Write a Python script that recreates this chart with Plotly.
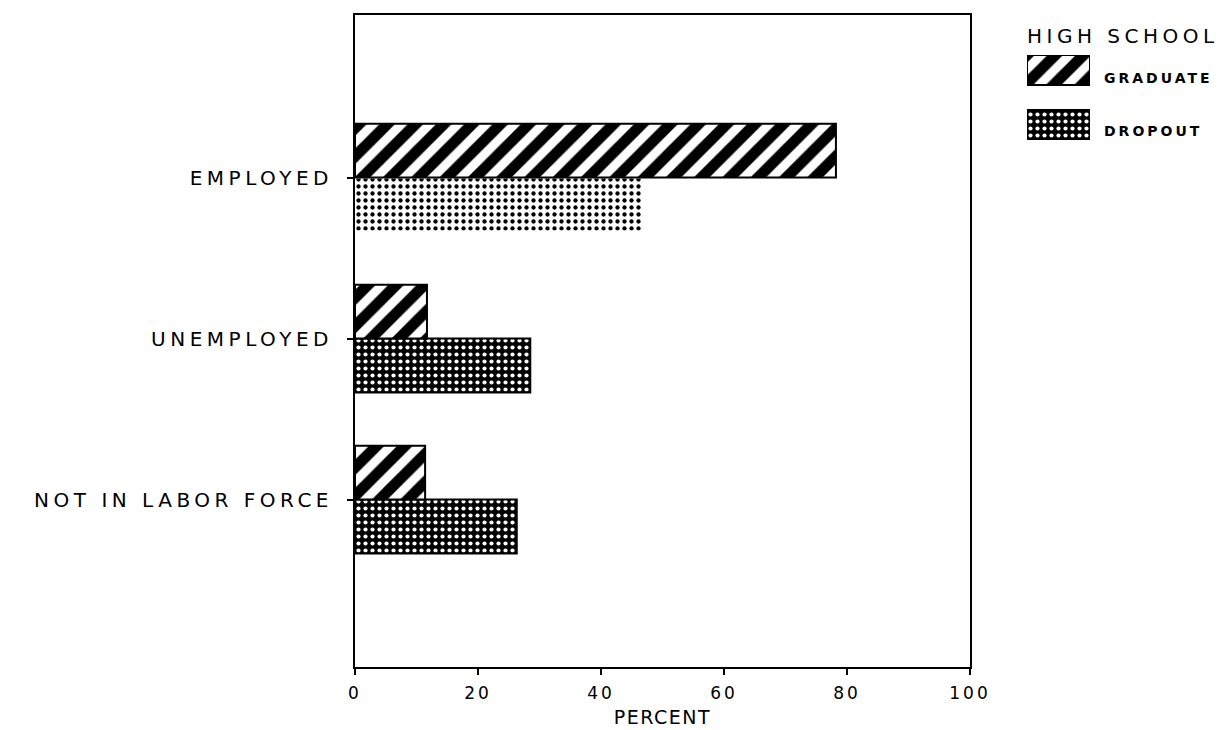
import plotly.graph_objects as go

categories = ["EMPLOYED", "UNEMPLOYED", "NOT IN LABOR FORCE"]
graduate = [78.2, 11.7, 11.4]
dropout = [46.7, 28.5, 26.3]
x_ticks = [0, 20, 40, 60, 80, 100]

FONT = "DejaVu Sans"
# the page body adds an 8px margin, so layout coordinates are shifted by 8
OFF = 8
W, H = 1230 - OFF, 730 - OFF
L, T = 355 - OFF, 15 - OFF
B = H - (667 - OFF)
R = 0
pw = W - L - R
ph = H - T - B
main_right = (970 - OFF - L) / pw


def spaced(text, ls):
    return f'<span style="letter-spacing:{ls}px">{text}</span>'


def px(x):
    return (x - OFF - L) / pw


def py(y):
    return 1 - (y - OFF - T) / ph


HATCH = dict(shape="/", bgcolor="white", fgcolor="black", fgopacity=1, size=20, solidity=0.55)
DOTS = dict(shape=".", bgcolor="black", fgcolor="white", fgopacity=1, size=7, solidity=0.28)

fig = go.Figure()

# dropout first so graduate sits above it in each group
fig.add_trace(go.Bar(
    y=categories, x=dropout, orientation="h", name="DROPOUT",
    marker=dict(
        color="black",
        line=dict(color=["white", "black", "black"], width=2),
        pattern=dict(shape=".", bgcolor=["white", "black", "black"],
                     fgcolor=["black", "white", "white"], fgopacity=1, size=7,
                     solidity=[0.3, 0.28, 0.28]),
    ),
    showlegend=False,
))
fig.add_trace(go.Bar(
    y=categories, x=graduate, orientation="h", name="GRADUATE",
    marker=dict(color="white", line=dict(color="black", width=2), pattern=HATCH),
    showlegend=False,
))

# hand-made legend swatches
fig.add_trace(go.Bar(
    y=[1], x=[1], orientation="h", width=0.545, xaxis="x2", yaxis="y2",
    marker=dict(color="white", line=dict(color="black", width=2), pattern=HATCH),
    showlegend=False, hoverinfo="skip",
))
fig.add_trace(go.Bar(
    y=[0], x=[1], orientation="h", width=0.545, xaxis="x2", yaxis="y2",
    marker=dict(color="black", line=dict(color="black", width=2), pattern=DOTS),
    showlegend=False, hoverinfo="skip",
))

fig.update_layout(
    width=W, height=H,
    margin=dict(l=L, r=R, t=T, b=B),
    paper_bgcolor="white", plot_bgcolor="white",
    barmode="group", bargap=0.33, bargroupgap=0,
    font=dict(family=FONT, color="black"),
    xaxis=dict(
        domain=[0, main_right], range=[0, 100],
        tickvals=x_ticks, ticktext=[spaced(str(v), 3) for v in x_ticks],
        showgrid=False, zeroline=False, showline=True, linecolor="black", linewidth=2,
        mirror=True, ticks="outside", ticklen=6, tickwidth=2, tickcolor="black",
        tickfont=dict(size=17), ticklabelstandoff=4, automargin=False,
        title=dict(text=spaced("PERCENT", 1.5), font=dict(size=19), standoff=8),
    ),
    yaxis=dict(
        categoryorder="array", categoryarray=categories[::-1], range=[-1.04, 3.01],
        tickvals=categories, ticktext=[spaced(c, 4.5) for c in categories],
        showgrid=False, zeroline=False, showline=True, linecolor="black", linewidth=2,
        mirror=True, ticks="outside", ticklen=6, tickwidth=2, tickcolor="black",
        tickfont=dict(size=20), ticklabelstandoff=10, automargin=False,
    ),
    xaxis2=dict(domain=[px(1027), px(1090)], range=[0, 1], visible=False, anchor="y2"),
    yaxis2=dict(domain=[py(140), py(55)], range=[-0.273, 1.273], visible=False, anchor="x2"),
    annotations=[
        dict(text=spaced("HIGH SCHOOL", 4.5), x=px(1025), y=py(36), xref="paper", yref="paper",
             xanchor="left", yanchor="middle", showarrow=False, font=dict(size=20)),
        dict(text=spaced("<b>GRADUATE</b>", 3), x=px(1102), y=py(78), xref="paper", yref="paper",
             xanchor="left", yanchor="middle", showarrow=False, font=dict(size=14)),
        dict(text=spaced("<b>DROPOUT</b>", 3), x=px(1102), y=py(131), xref="paper", yref="paper",
             xanchor="left", yanchor="middle", showarrow=False, font=dict(size=14)),
    ],
)

fig.write_html("out.html")
